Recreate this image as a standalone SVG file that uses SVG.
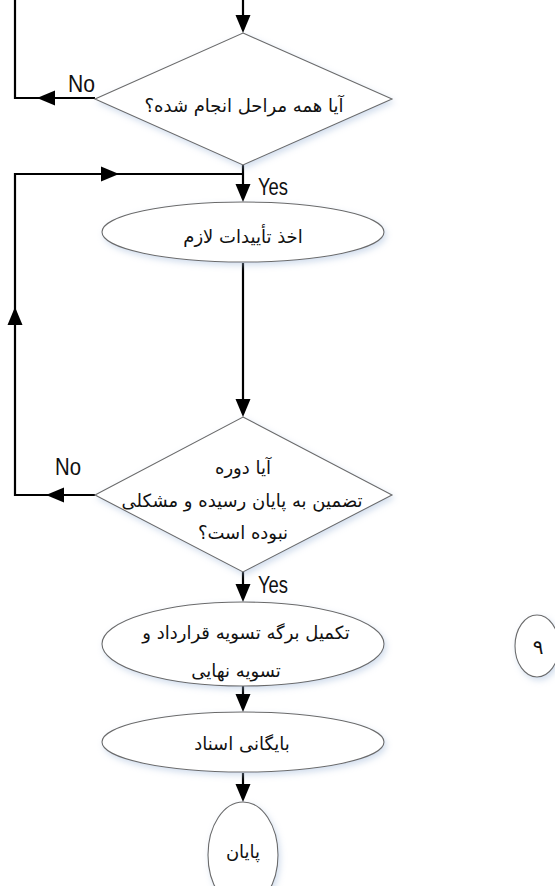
<svg xmlns="http://www.w3.org/2000/svg" xmlns:xlink="http://www.w3.org/1999/xlink" width="555" height="886" viewBox="0 0 555 886">
  <defs>
    <style>
      .shape { fill: #ffffff; stroke: #6b6b6b; stroke-width: 1.1; filter: url(#soft); }
      .wire { fill: none; stroke: #000000; stroke-width: 2.2; }
      .head { fill: #000000; }
      .fa { font-family: "DejaVu Sans", "Noto Sans", sans-serif; font-size: 18px; fill: #111111; text-anchor: middle; direction: rtl; }
      .lbl { font-family: "Liberation Sans", Arial, sans-serif; font-size: 23px; fill: #111111; }
    </style>
    <filter id="soft" x="-10%" y="-10%" width="130%" height="140%">
      <feDropShadow dx="2" dy="3" stdDeviation="3" flood-color="#9db6d8" flood-opacity="0.45"/>
    </filter>
    <!-- arrowhead, tip at origin, pointing along +x -->
    <path id="ah" d="M0,0 L-18,-7.5 L-18,7.5 Z"/>
  </defs>

  <rect width="555" height="886" fill="#ffffff"/>

  <!-- connectors -->
  <g id="connectors">
    <path class="wire" d="M243,0 V20"/>
    <path class="wire" d="M15,0 V98 H95"/>
    <path class="wire" d="M243,165 V190"/>
    <path class="wire" d="M243,174 H15 V495 H95"/>
    <path class="wire" d="M243,263 V405"/>
    <path class="wire" d="M243,572 V590"/>
    <path class="wire" d="M243,685 V700"/>
    <path class="wire" d="M243,773 V790"/>
    <g class="head">
      <use xlink:href="#ah" transform="translate(243,33) rotate(90)"/>
      <use xlink:href="#ah" transform="translate(37,98) rotate(180)"/>
      <use xlink:href="#ah" transform="translate(243,202) rotate(90)"/>
      <use xlink:href="#ah" transform="translate(119,174)"/>
      <use xlink:href="#ah" transform="translate(15,307) rotate(-90)"/>
      <use xlink:href="#ah" transform="translate(243,417) rotate(90)"/>
      <use xlink:href="#ah" transform="translate(46,495) rotate(180)"/>
      <use xlink:href="#ah" transform="translate(243,602) rotate(90)"/>
      <use xlink:href="#ah" transform="translate(243,712) rotate(90)"/>
      <use xlink:href="#ah" transform="translate(243,802) rotate(90)"/>
    </g>
    <text class="lbl" x="68" y="92" textLength="27" lengthAdjust="spacingAndGlyphs">No</text>
    <text class="lbl" x="258" y="195" textLength="30" lengthAdjust="spacingAndGlyphs">Yes</text>
    <text class="lbl" x="55" y="475" textLength="26" lengthAdjust="spacingAndGlyphs">No</text>
    <text class="lbl" x="258" y="593" textLength="30" lengthAdjust="spacingAndGlyphs">Yes</text>
  </g>

  <!-- decision: all steps done? -->
  <g id="check-steps">
    <polygon class="shape" points="243,33 392,99 243,165 95,99"/>
    <text class="fa" x="244" y="112">آیا همه مراحل انجام شده؟</text>
  </g>

  <g id="approvals">
    <ellipse class="shape" cx="243" cy="232" rx="141" ry="30"/>
    <text class="fa" x="243" y="243">اخذ تأییدات لازم</text>
  </g>

  <!-- decision: warranty period over without problems? -->
  <g id="check-warranty">
    <polygon class="shape" points="243,417 392,495 243,572 95,495"/>
    <text class="fa" x="243" y="474">آیا دوره</text>
    <text class="fa" x="242" y="507">تضمین به پایان رسیده و مشکلی</text>
    <text class="fa" x="243" y="539">نبوده است؟</text>
  </g>

  <g id="settlement">
    <ellipse class="shape" cx="243" cy="644" rx="141" ry="42"/>
    <text class="fa" x="246" y="639">تکمیل برگه تسویه قرارداد و</text>
    <text class="fa" x="236" y="677">تسویه نهایی</text>
  </g>

  <g id="archive">
    <ellipse class="shape" cx="243" cy="742" rx="141" ry="30"/>
    <text class="fa" x="242" y="750">بایگانی اسناد</text>
  </g>

  <g id="end">
    <ellipse class="shape" cx="243" cy="855" rx="35" ry="53"/>
    <text class="fa" x="243" y="858">پایان</text>
  </g>

  <g id="page-number">
    <ellipse class="shape" cx="537" cy="646" rx="22" ry="31"/>
    <text class="fa" x="538" y="654" style="font-size:20px">۹</text>
  </g>
</svg>
